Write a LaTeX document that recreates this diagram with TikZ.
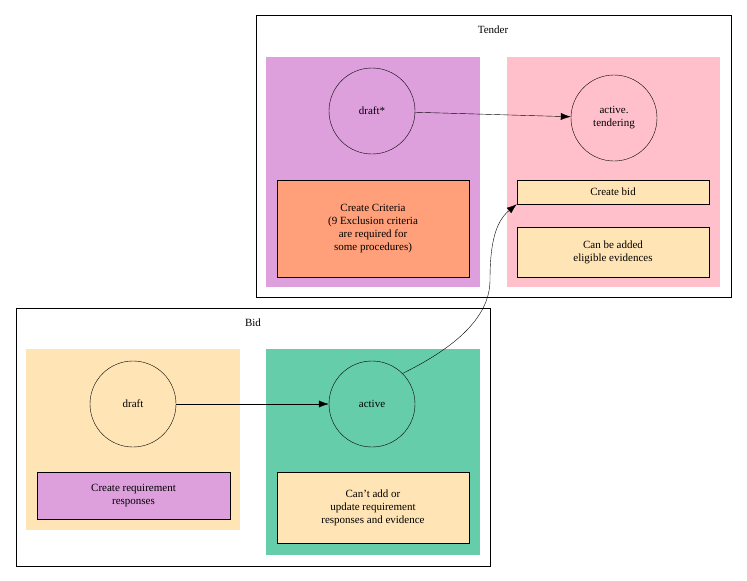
\documentclass[tikz,border=0pt]{standalone}
\usepackage{fontspec}
\setmainfont{Liberation Serif}
\usetikzlibrary{arrows.meta}
\definecolor{plum}{HTML}{DDA0DD}
\definecolor{salmon}{HTML}{FFA07A}
\definecolor{pinkc}{HTML}{FFC0CB}
\definecolor{moc}{HTML}{FFE4B5}
\definecolor{aqua}{HTML}{66CDAA}
\begin{document}
\begin{tikzpicture}[x=1pt,y=-1pt,
  st/.style={circle,draw,minimum size=86pt,inner sep=0pt,font=\fontsize{11}{13}\selectfont,align=center},
  bx/.style={draw,align=center,font=\fontsize{11}{13}\selectfont,inner sep=0pt},
  arr/.style={-{Latex[length=10pt,width=7pt]}},
  lab/.style={font=\fontsize{11}{13}\selectfont}]
\useasboundingbox (0,0) rectangle (747,581);
\draw (256,15) rectangle (731,297);
\node[lab] (tl) at (493,30) {Tender};
\fill[plum] (266,57) rectangle (480,287);
\fill[pinkc] (507,57) rectangle (720,287);
\node[st] (dstar) at (372,111) {draft*};
\node[bx,fill=salmon,minimum width=192pt,minimum height=97pt] (cc) at (373,228.5) {Create Criteria\\(9 Exclusion criteria\\are required for\\some procedures)};
\node[st] (at) at (614,118) {active.\\tendering};
\node[bx,fill=moc,minimum width=192pt,minimum height=24pt] (cb) at (613,192) {Create bid};
\node[bx,fill=moc,minimum width=192pt,minimum height=50pt] (ca) at (613,252) {Can be added\\eligible evidences};
\draw (16,308) rectangle (490,566);
\node[lab] (bl) at (253,323) {Bid};
\fill[moc] (26,349) rectangle (240,530);
\fill[aqua] (266,349) rectangle (480,555);
\node[st] (dr) at (133,404) {draft};
\node[bx,fill=plum,minimum width=193pt,minimum height=47pt] (cr) at (133.5,495.5) {Create requirement\\responses};
\node[st] (ac) at (372,404) {active};
\node[bx,fill=moc,minimum width=192pt,minimum height=71pt] (cn) at (373,507.5) {Can't add or\\update requirement\\responses and evidence};
\draw[arr] (dstar) -- (at);
\draw[arr] (dr) -- (ac);
\draw[arr] (ac.45) .. controls (450,350) and (490,320) .. (490,280) .. controls (490,245) and (495,222) .. (cb.south west);
\end{tikzpicture}
\end{document}
